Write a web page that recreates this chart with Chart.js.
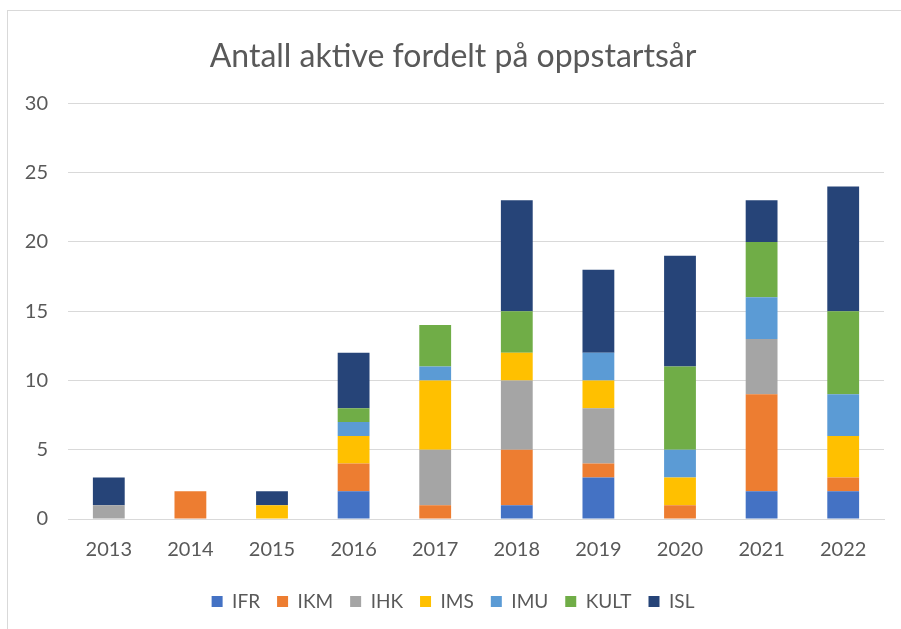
<!DOCTYPE html>
<html>
<head>
<meta charset="utf-8">
<script src="https://cdn.jsdelivr.net/npm/chart.js@4.4.1/dist/chart.umd.min.js"></script>
<style>
  html, body { margin: 0; padding: 0; background: #fff; overflow: hidden; }
  #wrap { position: relative; width: 901px; height: 629px; }
  #frame { position: absolute; left: 7px; top: 10px; width: 960px; height: 700px;
           border-left: 1px solid #d9d9d9; border-top: 1px solid #d9d9d9; }
  canvas { position: absolute; left: 0; top: 0; }
</style>
</head>
<body>
<div id="wrap">
  <div id="frame"></div>
  <canvas id="combinedChart" width="901" height="629"></canvas>
</div>
<script>
// Data
const years = ['2013', '2014', '2015', '2016', '2017', '2018', '2019', '2020', '2021', '2022'];
const IFR  = [0, 0, 0, 2, 0, 1, 3, 0, 2, 2];
const IKM  = [0, 2, 0, 2, 1, 4, 1, 1, 7, 1];
const IHK  = [1, 0, 0, 0, 4, 5, 4, 0, 4, 0];
const IMS  = [0, 0, 1, 2, 5, 2, 2, 2, 0, 3];
const IMU  = [0, 0, 0, 1, 1, 0, 2, 2, 3, 3];
const KULT = [0, 0, 0, 1, 3, 3, 0, 6, 4, 6];
const ISL  = [2, 0, 1, 4, 0, 8, 6, 8, 3, 9];

const textColor = '#595959';
const fontFamily = 'Lato, "Open Sans", sans-serif';

const makeSet = (label, data, color) => ({
    label: label,
    data: data,
    backgroundColor: color,
    borderWidth: 0,
    barPercentage: 0.39,
    categoryPercentage: 1
});

const canvas = document.getElementById('combinedChart');
const ctx = canvas.getContext('2d');

new Chart(ctx, {
    type: 'bar',
    data: {
        labels: years,
        datasets: [
            makeSet('IFR', IFR, '#4472C4'),
            makeSet('IKM', IKM, '#ED7D31'),
            makeSet('IHK', IHK, '#A5A5A5'),
            makeSet('IMS', IMS, '#FFC000'),
            makeSet('IMU', IMU, '#5B9BD5'),
            makeSet('KULT', KULT, '#70AD47'),
            makeSet('ISL', ISL, '#264478')
        ]
    },
    options: {
        responsive: false,
        animation: false,
        layout: { padding: { left: 22, right: 17, top: 0, bottom: 8 } },
        plugins: {
            title: {
                display: true,
                text: 'Antall aktive fordelt på oppstartsår',
                color: textColor,
                font: { family: fontFamily, size: 32, weight: 'normal' },
                padding: { top: 37, bottom: 28 }
            },
            legend: {
                position: 'bottom',
                labels: {
                    color: textColor,
                    font: { family: fontFamily, size: 19 },
                    boxWidth: 11,
                    boxHeight: 11,
                    padding: 17
                }
            },
            tooltip: { enabled: false }
        },
        scales: {
            x: {
                stacked: true,
                grid: { display: false, drawTicks: false },
                border: { color: '#d9d9d9', width: 1 },
                ticks: {
                    color: textColor,
                    font: { family: fontFamily, size: 20 },
                    padding: 19,
                    maxRotation: 0
                },
                afterFit: (scale) => { scale.height = 56; }
            },
            y: {
                stacked: true,
                min: 0,
                max: 30,
                grid: { color: '#d9d9d9', lineWidth: 1, drawTicks: false },
                border: { display: false },
                ticks: {
                    stepSize: 5,
                    color: textColor,
                    font: { family: fontFamily, size: 20 },
                    padding: 20
                },
                afterFit: (scale) => { scale.width = 46; }
            }
        }
    }
});
</script>
</body>
</html>
